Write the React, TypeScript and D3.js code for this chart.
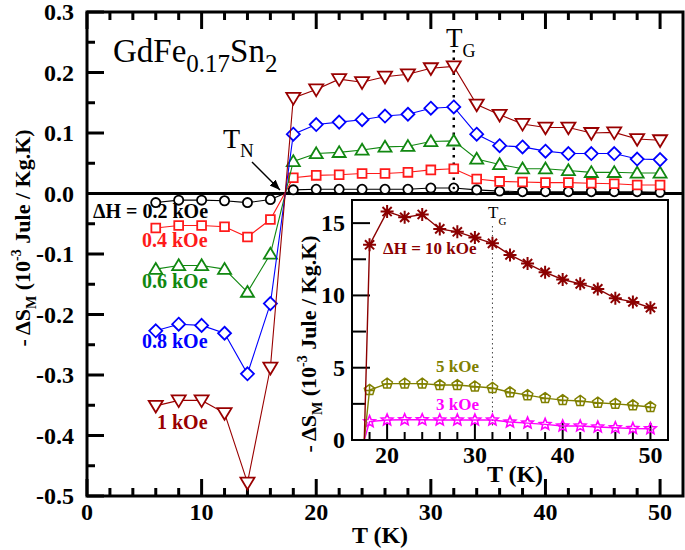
import React from "react";
import * as d3 from "d3";

// ---------- data ----------
const T_MAIN = [6, 8, 10, 12, 14, 16, 18, 20, 22, 24, 26, 28, 30, 32, 34, 36, 38, 40, 42, 44, 46, 48, 50];
const S_02 = [-0.015, -0.011, -0.011, -0.012, -0.015, -0.010, 0.006, 0.007, 0.007, 0.007, 0.007, 0.007, 0.009, 0.009, 0.006, 0.004, 0.003, 0.003, 0.003, 0.003, 0.003, 0.003, 0.002];
const S_04 = [-0.057, -0.053, -0.053, -0.055, -0.072, -0.043, 0.026, 0.030, 0.031, 0.033, 0.033, 0.035, 0.039, 0.041, 0.024, 0.020, 0.019, 0.018, 0.018, 0.017, 0.016, 0.014, 0.014];
const S_06 = [-0.125, -0.119, -0.119, -0.125, -0.163, -0.100, 0.053, 0.066, 0.068, 0.072, 0.077, 0.078, 0.086, 0.087, 0.057, 0.048, 0.041, 0.041, 0.038, 0.035, 0.035, 0.034, 0.034];
const S_08 = [-0.227, -0.216, -0.218, -0.231, -0.298, -0.182, 0.098, 0.114, 0.118, 0.122, 0.128, 0.131, 0.141, 0.143, 0.098, 0.079, 0.077, 0.070, 0.066, 0.066, 0.066, 0.057, 0.056];
const S_10 = [-0.351, -0.342, -0.342, -0.363, -0.478, -0.288, 0.158, 0.172, 0.189, 0.184, 0.193, 0.197, 0.207, 0.210, 0.147, 0.130, 0.115, 0.109, 0.109, 0.100, 0.101, 0.090, 0.088];

const T_INSET = [17.4, 18, 20, 22, 24, 26, 28, 30, 32, 34, 36, 38, 40, 42, 44, 46, 48, 50];
const H_10 = [0, 13.5, 15.8, 15.4, 15.6, 14.6, 14.4, 14.0, 13.6, 12.8, 12.2, 11.6, 11.1, 10.8, 10.45, 9.8, 9.55, 9.15];
const H_5 = [0, 3.46, 3.9, 3.9, 3.9, 3.8, 3.8, 3.7, 3.6, 3.3, 3.1, 2.9, 2.76, 2.7, 2.58, 2.5, 2.4, 2.28];
const H_3 = [0, 1.27, 1.38, 1.4, 1.4, 1.38, 1.38, 1.38, 1.38, 1.24, 1.17, 1.08, 0.97, 0.97, 0.9, 0.85, 0.8, 0.78];

const MAIN_X_TICKS = [0, 10, 20, 30, 40, 50];
const MAIN_Y_TICKS = [-0.5, -0.4, -0.3, -0.2, -0.1, 0.0, 0.1, 0.2, 0.3];
const INSET_X_TICKS = [20, 30, 40, 50];
const INSET_Y_TICKS = [0, 5, 10, 15];
const T_G = 32;

const FONT = "'Liberation Serif', 'Times New Roman', serif";

// ---------- marker paths ----------
function circlePath(r: number) {
  return `M${r},0A${r},${r} 0 1,1 ${-r},0A${r},${r} 0 1,1 ${r},0Z`;
}
function squarePath(s: number) {
  return `M${-s},${-s}H${s}V${s}H${-s}Z`;
}
function triUp(s: number) {
  return `M0,${-s}L${s * 1.05},${s * 0.75}L${-s * 1.05},${s * 0.75}Z`;
}
function triDown(s: number) {
  return `M0,${s}L${s * 1.05},${-s * 0.75}L${-s * 1.05},${-s * 0.75}Z`;
}
function diamond(s: number) {
  return `M0,${-s}L${s},0L0,${s}L${-s},0Z`;
}
function asterisk(r: number) {
  let p = "";
  for (let i = 0; i < 4; i++) {
    const a = (i * Math.PI) / 4;
    const dx = r * Math.cos(a), dy = r * Math.sin(a);
    p += `M${-dx},${-dy}L${dx},${dy}`;
  }
  return p;
}
function pentagon(r: number) {
  const pts = d3.range(5).map((i) => {
    const a = -Math.PI / 2 + (i * 2 * Math.PI) / 5;
    return [r * Math.cos(a), r * Math.sin(a)];
  });
  return "M" + pts.map((p) => p.join(",")).join("L") + `ZM${-r * 0.8},0.5H${r * 0.8}M0,${-r}V${r * 0.8}`;
}
function star(r: number) {
  const pts = d3.range(10).map((i) => {
    const rr = i % 2 === 0 ? r : r * 0.45;
    const a = -Math.PI / 2 + (i * Math.PI) / 5;
    return [rr * Math.cos(a), rr * Math.sin(a)];
  });
  return "M" + pts.map((p) => p.join(",")).join("L") + "Z";
}

function YTitle({ tx, ty }: { tx: number; ty: number }) {
  return (
    <text transform={`translate(${tx},${ty}) rotate(-90)`} textAnchor="middle" fontSize={22} fontWeight="bold">
      - ΔS<tspan dy={6} fontSize={14}>M</tspan>
      <tspan dy={-6}> (10</tspan>
      <tspan dy={-9} fontSize={14}>-3</tspan>
      <tspan dy={9}> Jule / Kg.K)</tspan>
    </text>
  );
}

export default function App() {
  const W = 685, H = 550;
  const L = 87, R = 683, TOP = 12, BOT = 496;
  const x = d3.scaleLinear().domain([0, 52]).range([L, R]);
  const y = d3.scaleLinear().domain([-0.5, 0.3]).range([BOT, TOP]);

  const iL = 352, iR = 668, iT = 200, iB = 440;
  const ix = d3.scaleLinear().domain([16, 52]).range([iL, iR]);
  const iy = d3.scaleLinear().domain([0, 16.6]).range([iB, iT]);

  const line = d3.line<[number, number]>().x((d) => x(d[0])).y((d) => y(d[1]));
  const iline = d3.line<[number, number]>().x((d) => ix(d[0])).y((d) => iy(d[1]));

  const mainSeries = [
    { vals: S_02, color: "#000000", path: circlePath(4.6) },
    { vals: S_04, color: "#ff1a1a", path: squarePath(4.4) },
    { vals: S_06, color: "#118811", path: triUp(6.2) },
    { vals: S_08, color: "#0000ff", path: diamond(6.5) },
    { vals: S_10, color: "#990000", path: triDown(6.7) },
  ];

  const insetSeries = [
    { vals: H_3, color: "#ff00ff", path: star(6), sw: 1.6 },
    { vals: H_5, color: "#808000", path: pentagon(5.5), sw: 1.5 },
    { vals: H_10, color: "#8b0000", path: asterisk(6.5), sw: 2 },
  ];

  const xMinor = d3.range(0, 52, 2);
  const yMinor = d3.range(-0.5, 0.3001, 0.05);
  const ixMinor = d3.range(18, 51, 2);
  const iyMinor = d3.range(0, 16.5, 2.5);

  const isMajor = (v: number, step: number) => Math.abs(v / step - Math.round(v / step)) < 1e-6;

  return (
    <svg width={W} height={H} style={{ position: "absolute", left: 0, top: 0, background: "#fff" }} fontFamily={FONT}>
      <rect x={0} y={0} width={W} height={H} fill="#fff" />

      {xMinor.map((v) => {
        const len = isMajor(v, 10) ? 17 : 8;
        return (
          <g key={"xt" + v}>
            <line x1={x(v)} x2={x(v)} y1={BOT} y2={BOT - len} stroke="#000" strokeWidth={3} />
            <line x1={x(v)} x2={x(v)} y1={TOP} y2={TOP + len} stroke="#000" strokeWidth={3} />
          </g>
        );
      })}
      {yMinor.map((v) => {
        const len = isMajor(v, 0.1) ? 17 : 8;
        return <line key={"yt" + v} x1={L} x2={L + len} y1={y(v)} y2={y(v)} stroke="#000" strokeWidth={3} />;
      })}

      {MAIN_X_TICKS.map((v) => (
        <text key={"xl" + v} x={x(v)} y={520} textAnchor="middle" fontSize={24} fontWeight="bold">
          {v}
        </text>
      ))}
      {MAIN_Y_TICKS.map((v) => (
        <text key={"yl" + v} x={74} y={y(v) + 8} textAnchor="end" fontSize={24} fontWeight="bold">
          {v.toFixed(1)}
        </text>
      ))}

      <text x={380} y={543} textAnchor="middle" fontSize={24} fontWeight="bold">T (K)</text>
      <YTitle tx={30} ty={238} />

      <line x1={L} x2={R} y1={y(0)} y2={y(0)} stroke="#000" strokeWidth={3} />

      <line x1={x(T_G)} x2={x(T_G)} y1={50} y2={182} stroke="#000" strokeWidth={2.5} strokeDasharray="2.5,5" />

      {mainSeries.map((s, si) => {
        const pts = T_MAIN.map((t, i) => [t, s.vals[i]] as [number, number]);
        return (
          <g key={"ms" + si}>
            <path d={line(pts) || ""} fill="none" stroke={s.color} strokeWidth={1.1} />
            {pts.map((p, i) => (
              <path key={i} d={s.path} transform={`translate(${x(p[0])},${y(p[1])})`} fill="#fff" stroke={s.color} strokeWidth={1.8} />
            ))}
          </g>
        );
      })}
      <circle cx={x(T_G)} cy={y(S_02[T_MAIN.indexOf(T_G)])} r={1.3} fill="#000" />

      <rect x={L} y={TOP} width={R - L} height={BOT - TOP} fill="none" stroke="#000" strokeWidth={3} />

      <text x={113} y={62} fontSize={33}>
        GdFe<tspan dy={10} fontSize={25}>0.17</tspan>
        <tspan dy={-10}>Sn</tspan>
        <tspan dy={10} fontSize={25}>2</tspan>
      </text>

      <text x={223} y={148} fontSize={28}>
        T<tspan dy={9} fontSize={19}>N</tspan>
      </text>
      <defs>
        <marker id="arr" viewBox="0 0 10 10" refX={10} refY={5} markerWidth={7} markerHeight={7} orient="auto">
          <path d="M0,1L10,5L0,9Z" fill="#000" />
        </marker>
      </defs>
      <line x1={252} y1={162} x2={280} y2={190} stroke="#000" strokeWidth={1.5} markerEnd="url(#arr)" />

      <text x={446} y={47} fontSize={27}>
        T<tspan dy={10} fontSize={18}>G</tspan>
      </text>

      <text x={93} y={218} fontSize={20} fontWeight="bold" fill="#000">ΔH = 0.2 kOe</text>
      <text x={142} y={247} fontSize={20} fontWeight="bold" fill="#ff1a1a">0.4 kOe</text>
      <text x={142} y={288} fontSize={20} fontWeight="bold" fill="#118811">0.6 kOe</text>
      <text x={142} y={348} fontSize={20} fontWeight="bold" fill="#0000ff">0.8 kOe</text>
      <text x={157} y={429} fontSize={20} fontWeight="bold" fill="#990000">1 kOe</text>

      {/* ---------- inset ---------- */}
      <rect x={iL} y={iT} width={iR - iL} height={iB - iT} fill="#fff" stroke="none" />
      {ixMinor.map((v) => (
        <line key={"ixt" + v} x1={ix(v)} x2={ix(v)} y1={iB} y2={iB - (isMajor(v, 10) ? 17 : 8)} stroke="#000" strokeWidth={2} />
      ))}
      {iyMinor.map((v) => (
        <line key={"iyt" + v} x1={iL} x2={iL + (isMajor(v, 5) ? 18 : 14)} y1={iy(v)} y2={iy(v)} stroke="#000" strokeWidth={2} />
      ))}
      {INSET_X_TICKS.map((v) => (
        <text key={"ixl" + v} x={ix(v)} y={463} textAnchor="middle" fontSize={24} fontWeight="bold">{v}</text>
      ))}
      {INSET_Y_TICKS.map((v) => (
        <text key={"iyl" + v} x={345} y={iy(v) + 8} textAnchor="end" fontSize={24} fontWeight="bold">{v}</text>
      ))}
      <text x={515} y={482} textAnchor="middle" fontSize={24} fontWeight="bold">T (K)</text>
      <YTitle tx={316} ty={344} />

      <line x1={ix(T_G)} x2={ix(T_G)} y1={226} y2={426} stroke="#444" strokeWidth={1} strokeDasharray="1.5,3" />
      <text x={488} y={218} fontSize={17}>
        T<tspan dy={7} fontSize={11}>G</tspan>
      </text>

      {insetSeries.map((s, si) => {
        const pts = T_INSET.map((t, i) => [t, s.vals[i]] as [number, number]);
        return (
          <g key={"is" + si}>
            <path d={iline(pts) || ""} fill="none" stroke={s.color} strokeWidth={1.4} />
            {pts.slice(1).map((p, i) => (
              <path key={i} d={s.path} transform={`translate(${ix(p[0])},${iy(p[1])})`} fill="none" stroke={s.color} strokeWidth={s.sw} />
            ))}
          </g>
        );
      })}

      <text x={383} y={254} fontSize={17} fontWeight="bold" fill="#8b0000">ΔH = 10 kOe</text>
      <text x={436} y={372} fontSize={17} fontWeight="bold" fill="#808000">5 kOe</text>
      <text x={436} y={410} fontSize={17} fontWeight="bold" fill="#ff00ff">3 kOe</text>

      <rect x={iL} y={iT} width={iR - iL} height={iB - iT} fill="none" stroke="#000" strokeWidth={2} />
    </svg>
  );
}
